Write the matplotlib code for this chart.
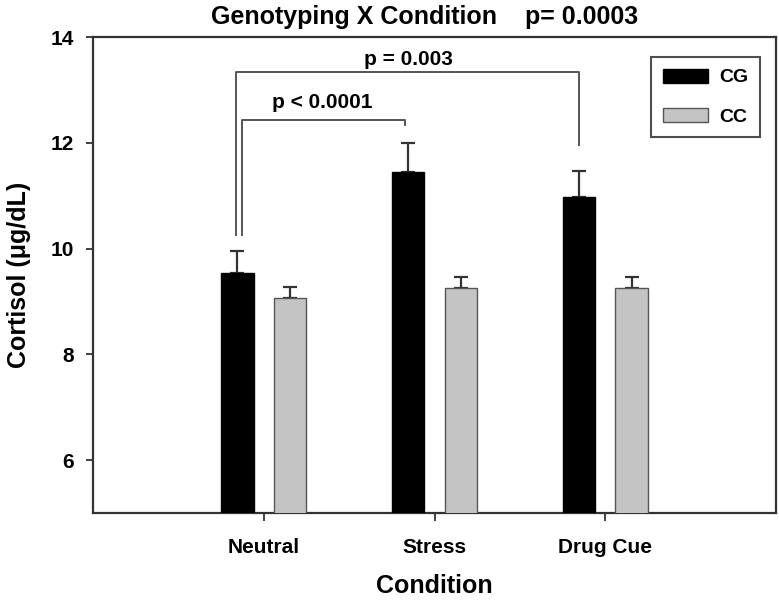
import matplotlib
matplotlib.use("Agg")
import matplotlib.pyplot as plt
import numpy as np

plt.rcParams['font.family'] = ['Liberation Sans', 'DejaVu Sans']
plt.rcParams['font.weight'] = 'bold'

conditions = ["Neutral", "Stress", "Drug Cue"]
cg_means = [9.53, 11.45, 10.98]
cg_err = [0.43, 0.55, 0.48]
cc_means = [9.07, 9.25, 9.25]
cc_err = [0.21, 0.22, 0.22]
series_labels = ["CG", "CC"]
title_text = "Genotyping X Condition    p= 0.0003"
sig_labels = ["p = 0.003", "p < 0.0001"]

fig = plt.figure(figsize=(7.79, 6.0), dpi=100)
ax = fig.add_axes([93/779, 1-513/600, (776-93)/779, (513-37)/600])

x = np.arange(1, len(conditions) + 1)
width = 0.19
off = 0.155

ax.bar(x - off, cg_means, width, color='black', edgecolor='black', linewidth=1, label=series_labels[0], zorder=3)
ax.bar(x + off, cc_means, width, color='#c4c4c4', edgecolor='#555555', linewidth=1, label=series_labels[1], zorder=3)

ax.errorbar(x - off, cg_means, yerr=[np.zeros(3), cg_err], fmt='none', ecolor='#333333',
            elinewidth=1.6, capsize=5, capthick=1.6, zorder=2)
ax.errorbar(x + off, cc_means, yerr=[np.zeros(3), cc_err], fmt='none', ecolor='#333333',
            elinewidth=1.6, capsize=5, capthick=1.6, zorder=2)

ax.set_xlim(0, 4)
ax.set_ylim(5, 14)
ax.set_yticks([6, 8, 10, 12, 14])
ax.set_xticks(x)
ax.set_xticklabels(conditions, fontsize=15, fontweight='bold')
for lab in ax.get_yticklabels():
    lab.set_fontsize(15)
    lab.set_fontweight('bold')
ax.tick_params(axis='y', direction='out', length=5, width=1.3, pad=9, color='#333333')
ax.tick_params(axis='x', direction='out', length=6, width=1.3, pad=12, color='#333333')
for s in ax.spines.values():
    s.set_color('#333333')
    s.set_linewidth(1.6)

ax.set_ylabel("Cortisol (μg/dL)", fontsize=18, fontweight='bold', labelpad=14)
ax.set_xlabel("Condition", fontsize=18, fontweight='bold', labelpad=12)
fig.text(425/779, 1-17/600, title_text, ha='center', va='center', fontsize=18, fontweight='bold')

# significance brackets
bc = '#555555'
x0 = x[0] - off
x1 = x[1] - off
x2 = x[2] - off
ax.plot([x0 - 0.01, x0 - 0.01, x2, x2], [10.26, 13.33, 13.33, 11.96], color=bc, lw=1.4, zorder=1)
ax.plot([x0 + 0.025, x0 + 0.025, x1 - 0.02, x1 - 0.02], [10.26, 12.44, 12.44, 12.34], color=bc, lw=1.4, zorder=1)
ax.text((x0 + x2) / 2, 13.58, sig_labels[0], ha='center', va='center', fontsize=15, fontweight='bold')
ax.text((x0 + x1) / 2, 12.77, sig_labels[1], ha='center', va='center', fontsize=15, fontweight='bold')

leg = ax.legend(loc='upper right', bbox_to_anchor=(0.9766, 0.958), borderaxespad=0,
                fancybox=False, edgecolor='#222222', handlelength=2.5, handleheight=0.8,
                labelspacing=1.25, borderpad=0.65, handletextpad=0.6,
                prop={'weight': 'bold', 'size': 13})
for t in leg.get_texts():
    t.set_fontweight('bold')
    t.set_fontsize(14)
leg.get_frame().set_linewidth(1.5)

fig.savefig("out.png", dpi=100)
